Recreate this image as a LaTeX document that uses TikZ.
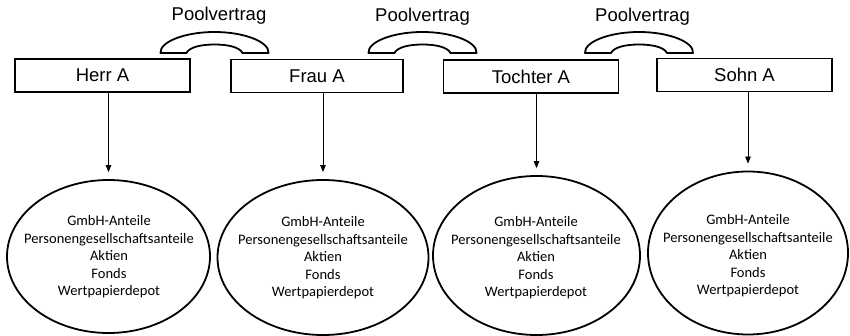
\documentclass[tikz,border=0pt]{standalone}
\usepackage{fontspec}
\setmainfont{Liberation Sans}
\newfontfamily\carlito{Carlito}
\usetikzlibrary{shapes.geometric,arrows.meta}
\begin{document}
\begin{tikzpicture}[x=1pt,y=-1pt,
  person/.style={draw,line width=1.8pt,minimum width=175pt,minimum height=33pt,
    inner sep=0pt,font=\fontsize{18.5}{20}\selectfont},
  asset/.style={draw,ellipse,line width=1.8pt,inner sep=0pt},
  holdings/.style={align=center,inner sep=0pt,
    font=\carlito\fontsize{14.5}{17.5}\selectfont},
  link/.style={-{Triangle[length=7pt,width=5.5pt]},line width=0.8pt,shorten >=7pt},
  pool/.style={font=\fontsize{18.5}{20}\selectfont,anchor=base,inner sep=0pt},
  handset/.pic={
    \draw[line width=1.8pt,line join=round]
      (-54,0) .. controls (-55,-11) and (-30,-21) .. (0,-21)
      .. controls (30,-21) and (55,-11) .. (54,0)
      -- (28,0) .. controls (25,-6) and (13,-8.5) .. (0,-8.5)
      .. controls (-13,-8.5) and (-25,-6) .. (-28,0) -- cycle;
  }]
\useasboundingbox (0,0) rectangle (850,336);

% family members
\node[person] (herr)    at (102.5,75.5) {Herr A};
\node[person,minimum width=172pt] (frau) at (317,76) {Frau A};
\node[person] (tochter) at (531,76.5) {Tochter A};
\node[person] (sohn)    at (744.5,75) {Sohn A};

% pool agreements
\pic at (214.5,53) {handset};
\pic at (422.5,53) {handset};
\pic at (639,53) {handset};
\node[pool] (p1) at (219,21) {Poolvertrag};
\node[pool] (p2) at (422.5,22) {Poolvertrag};
\node[pool] (p3) at (642.5,21.5) {Poolvertrag};

% assets of each member
\newcommand{\assetlist}{GmbH-Anteile\\Personengesellschaftsanteile\\Aktien\\Fonds\\Wertpapierdepot}
\node[asset,minimum width=203pt,minimum height=153pt] (e1) at (108.5,256.5) {};
\node[asset,minimum width=211pt,minimum height=155pt] (e2) at (323,257.5) {};
\node[asset,minimum width=207pt,minimum height=159pt] (e3) at (536.5,255.5) {};
\node[asset,minimum width=200pt,minimum height=163pt] (e4) at (748,253) {};
\node[holdings] (t1) at (109,257) {\assetlist};
\node[holdings] (t2) at (323,258) {\assetlist};
\node[holdings] (t3) at (536,258) {\assetlist};
\node[holdings] (t4) at (748,256) {\assetlist};

% ownership arrows
\draw[link] (e1.north |- herr.south) -- (e1.north);
\draw[link] (e2.north |- frau.south) -- (e2.north);
\draw[link] (e3.north |- tochter.south) -- (e3.north);
\draw[link] (e4.north |- sohn.south) -- (e4.north);
\end{tikzpicture}
\end{document}
